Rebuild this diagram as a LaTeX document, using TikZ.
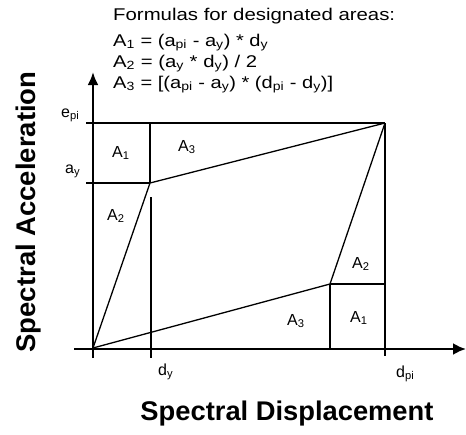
\documentclass[tikz,border=0pt]{standalone}
\usepackage{fontspec}
\setmainfont{Liberation Sans}
\usetikzlibrary{arrows.meta}
\newcommand{\fitw}[2]{\resizebox{#1}{\height}{#2}}
\newcommand{\sub}[1]{\textsubscript{#1}}
\begin{document}
\begin{tikzpicture}[x=1pt,y=-1pt,
  axis/.style={line width=2.4pt},
  frame/.style={line width=1.5pt},
  curve/.style={line width=1.3pt},
  thin/.style={line width=1.1pt},
  lbl/.style={inner sep=0pt,anchor=base west,font=\fontsize{16}{18}\selectfont},
  formula/.style={inner sep=0pt,anchor=base west,font=\fontsize{17}{19}\selectfont},
  axlabel/.style={inner sep=0pt,anchor=base,font=\fontsize{27}{30}\selectfont\bfseries}]
\useasboundingbox (0,0) rectangle (466,434);
% key points
\coordinate (O) at (93,348);
\coordinate (Ytop) at (93,72);
\coordinate (Ybot) at (93,358);
\coordinate (Xleft) at (74,349);
\coordinate (Xright) at (466,349);
\coordinate (Ep0) at (86,123);
\coordinate (Ay0) at (86,183);
\coordinate (Y) at (150,183);
\coordinate (Yb) at (150,123);
\coordinate (P) at (385,123);
\coordinate (Pb) at (385,356);
\coordinate (L) at (330,284);
\coordinate (Lb) at (330,349);
\coordinate (Lr) at (385,284);
\coordinate (Dy0) at (151,197);
\coordinate (Dy1) at (151,358);
% axes
\draw[axis,-{Latex[length=13pt,width=11pt]}] (Ybot) -- (Ytop);
\draw[axis,-{Latex[length=13pt,width=12pt]}] (Xleft) -- (Xright);
% frames
\draw[frame] (Ep0) -- (P);
\draw[frame] (Ay0) -- (Y);
\draw[frame] (Yb) -- (Y);
\draw[thin] (Dy0) -- (Dy1);
\draw[thin] (P) -- (Pb);
\draw[thin] (L) -- (Lb);
\draw[frame] (L) -- (Lr);
% curves
\draw[curve] (O) -- (Y) -- (P);
\draw[curve] (O) -- (L) -- (P);
% labels
\node[lbl] (epi) at (61,117) {e\sub{pi}};
\node[lbl] (ay) at (65,173) {a\sub{y}};
\node[lbl] (a1t) at (112,157) {A\sub{1}};
\node[lbl] (a3t) at (178,151) {A\sub{3}};
\node[lbl] (a2t) at (107,220) {A\sub{2}};
\node[lbl] (a2b) at (352,268) {A\sub{2}};
\node[lbl] (a3b) at (287,325) {A\sub{3}};
\node[lbl] (a1b) at (350,322) {A\sub{1}};
\node[lbl] (dy) at (158,375) {d\sub{y}};
\node[lbl] (dpi) at (396,377) {d\sub{pi}};
% formulas
\node[formula] (f0) at (113,20) {\fitw{282pt}{Formulas for designated areas:}};
\node[formula] (f1) at (113,46) {\fitw{155pt}{A\sub{1} = (a\sub{pi} - a\sub{y}) * d\sub{y}}};
\node[formula] (f2) at (113,67) {\fitw{144pt}{A\sub{2} = (a\sub{y} * d\sub{y}) / 2}};
\node[formula] (f3) at (113,88) {\fitw{220pt}{A\sub{3} = [(a\sub{pi} - a\sub{y}) * (d\sub{pi} - d\sub{y})]}};
% axis titles
\node[axlabel] (xt) at (287,420) {\fitw{293pt}{Spectral Displacement}};
\node[axlabel,rotate=90] (yt) at (35,212) {\fitw{281pt}{Spectral Acceleration}};
\end{tikzpicture}
\end{document}
